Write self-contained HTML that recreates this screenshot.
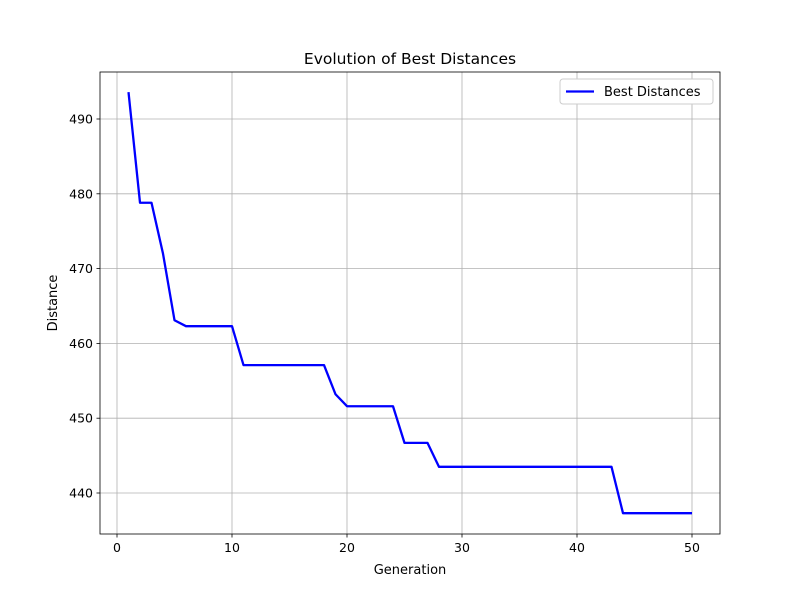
<!DOCTYPE html>
<html><head><meta charset="utf-8"><style>body{margin:0;background:#fff}svg{display:block;font-family:"DejaVu Sans","Liberation Sans",sans-serif}</style></head>
<body>
<svg id="chart" width="800" height="600">
<rect width="800" height="600" fill="#fff"/>
</svg>
<script>
const generations = Array.from({length:50},(_,i)=>i+1);
const bestDistances = [493.6,478.8,478.8,472.0,463.1,462.3,462.3,462.3,462.3,462.3,
457.1,457.1,457.1,457.1,457.1,457.1,457.1,457.1,453.2,451.6,
451.6,451.6,451.6,451.6,446.7,446.7,446.7,443.5,443.5,443.5,
443.5,443.5,443.5,443.5,443.5,443.5,443.5,443.5,443.5,443.5,
443.5,443.5,443.5,437.3,437.3,437.3,437.3,437.3,437.3,437.3];
const xTicks = [0,10,20,30,40,50];
const yTicks = [440,450,460,470,480,490];

const svg = document.getElementById('chart');
const NS = 'http://www.w3.org/2000/svg';
const L=100,R=720,T=72,B=534;
const xs = v => 117 + (v-0)*11.5;
const ys = v => 493 - (v-440)*7.48;
function mk(tag, attrs, parent){const e=document.createElementNS(NS,tag);for(const k in attrs)e.setAttribute(k,attrs[k]);(parent||svg).appendChild(e);return e;}

xTicks.forEach(t=>{
  const x=xs(t);
  const g=mk('line',{x1:x,x2:x,y1:T,y2:B,stroke:'#b0b0b0','stroke-width':0.8});
  
  
  mk('line',{x1:x,x2:x,y1:B,y2:B+3.5,stroke:'#000','stroke-width':0.8});
  const tx=mk('text',{x:x,y:B+18,'font-size':12.5,'text-anchor':'middle'});
  tx.textContent=t;
  
  
});
yTicks.forEach(t=>{
  const y=ys(t);
  const g=mk('line',{x1:L,x2:R,y1:y,y2:y,stroke:'#b0b0b0','stroke-width':0.8});
  
  
  mk('line',{x1:L-3.5,x2:L,y1:y,y2:y,stroke:'#000','stroke-width':0.8});
  const tx=mk('text',{x:L-7,y:y+4.5,'font-size':12.5,'text-anchor':'end'});
  tx.textContent=t;
  
  
});

const pts = generations.map((g,i)=>xs(g)+','+ys(bestDistances[i])).join(' ');
const line = mk('polyline',{points:pts,fill:'none',stroke:'#0000ff','stroke-width':2.3,'stroke-linejoin':'round'});



const frame = mk('rect',{x:L,y:T,width:R-L,height:B-T,fill:'none',stroke:'#000','stroke-width':0.8});



const title = mk('text',{x:410,y:64,'font-size':15.5,'text-anchor':'middle'});
title.textContent='Evolution of Best Distances';


const xl = mk('text',{x:410,y:574,'font-size':13,'text-anchor':'middle'});
xl.textContent='Generation';


const yl = mk('text',{x:0,y:0,'font-size':13,'text-anchor':'middle',transform:'translate(57,303) rotate(-90)'});
yl.textContent='Distance';



const lg = mk('g',{});


mk('rect',{x:560,y:79,width:153,height:25,rx:3,fill:'#fff',stroke:'#ccc','stroke-width':1},lg);
mk('line',{x1:566,x2:594,y1:91.5,y2:91.5,stroke:'#0000ff','stroke-width':2.3},lg);
const lt = mk('text',{x:604,y:96,'font-size':13},lg);
lt.textContent='Best Distances';


</script>
</body></html>
